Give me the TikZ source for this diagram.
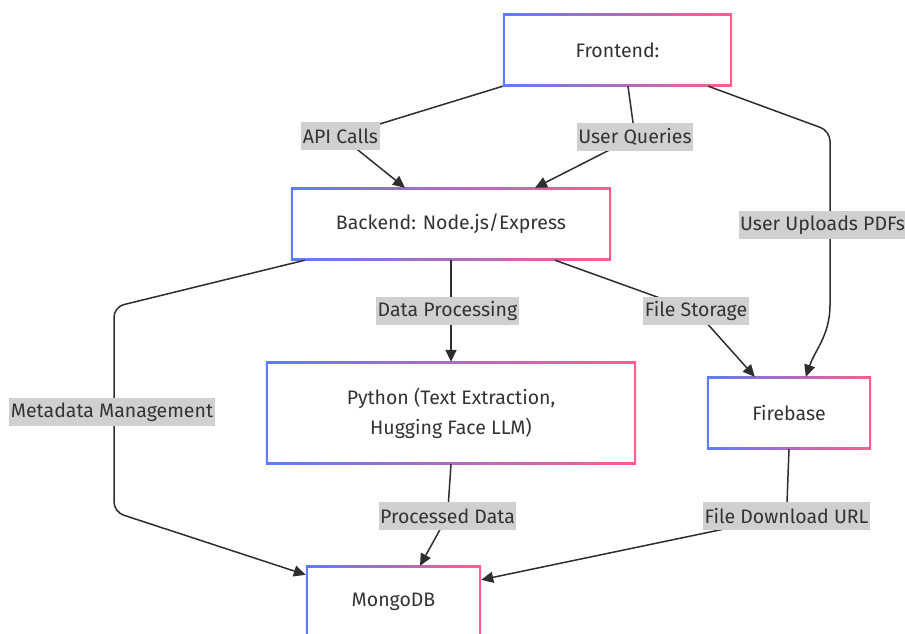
\documentclass[tikz,border=0pt]{standalone}
\usepackage{fontspec}
\setmainfont{Fira Sans}
\usetikzlibrary{arrows.meta,backgrounds}
\definecolor{cblue}{HTML}{5C7CFA}
\definecolor{cpink}{HTML}{FF5C8A}
\definecolor{ctext}{HTML}{333333}
\definecolor{clabel}{HTML}{D0D0D0}
\definecolor{cedge}{HTML}{2E2E2E}
\newcommand{\gradbox}[1]{%
  \shade[left color=cblue,right color=cpink] (#1.south west) rectangle (#1.north east);
  \fill[white] ([shift={(1.8,-1.8)}]#1.south west) rectangle ([shift={(-1.8,1.8)}]#1.north east);}
\tikzset{
  boxnode/.style={text=ctext,font=\fontsize{19.5}{24}\selectfont,align=center,inner sep=0pt},
  lbl/.style={fill=clabel,text=ctext,font=\fontsize{19.5}{24}\selectfont,inner xsep=1.5pt,inner ysep=0pt,minimum height=28pt},
  edge/.style={draw=cedge,line width=1.5pt,rounded corners=10pt,-{Triangle[length=12pt,width=11pt]}},
}
\begin{document}
\begin{tikzpicture}[x=1pt,y=-1pt]
\clip (0,0) rectangle (905,633);
% nodes
\node[boxnode,minimum width=229pt,minimum height=72pt] (fe) at (617.5,50) {Frontend:};
\node[boxnode,minimum width=320pt,minimum height=72pt] (be) at (451,224) {Backend: Node.js/Express};
\node[boxnode,minimum width=370pt,minimum height=102pt] (py) at (451,413) {Python (Text Extraction,\\[6pt] Hugging Face LLM)};
\node[boxnode,minimum width=164pt,minimum height=72pt] (fb) at (789,413) {Firebase};
\node[boxnode,minimum width=175pt,minimum height=72pt] (mg) at (393.5,602) {MongoDB};
% labels
\node[lbl] (lapi) at (340.5,136) {API Calls};
\node[lbl] (luq) at (635,137) {User Queries};
\node[lbl] (lup) at (822.5,225) {User Uploads PDFs};
\node[lbl] (ldp) at (447.5,311) {Data Processing};
\node[lbl] (lfs) at (696,311) {File Storage};
\node[lbl] (lmm) at (112,412) {Metadata Management};
\node[lbl] (lpd) at (447.5,516) {Processed Data};
\node[lbl] (lfd) at (786.5,516) {File Download URL};
\begin{pgfonlayer}{background}
\fill[white] (0,0) rectangle (905,633);
\gradbox{fe}
\gradbox{be}
\gradbox{py}
\gradbox{fb}
\gradbox{mg}
\draw[edge] (fe.south west) -- (lapi.center) -- ([xshift=-46pt]be.north);
\draw[edge] ([xshift=10.5pt]fe.south) -- (luq.center) -- ([xshift=84pt]be.north);
\draw[edge] ([xshift=-24pt]fe.south east) -- (830,131) -- (lup.center -| 830,0) -- (830,295) .. controls (830,335) and (815,350) .. ([xshift=99pt]fb.north west);
\draw[edge] (be.south) -- (ldp.center -| be.south) -- (py.north);
\draw[edge] ([xshift=104pt]be.south) -- (lfs.center) -- ([xshift=48pt]fb.north west);
\draw[edge] ([xshift=14pt]be.south west) -- (114,307) -- (lmm.center -| 114,0) -- (114,512) -- ([yshift=-9pt]mg.north west);
\draw[edge] (py.south) -- (lpd.center) -- ([xshift=26.5pt]mg.north);
\draw[edge] (fb.south) -- (lfd.center) -- ([yshift=-14pt]mg.north east);
\end{pgfonlayer}
\end{tikzpicture}
\end{document}
